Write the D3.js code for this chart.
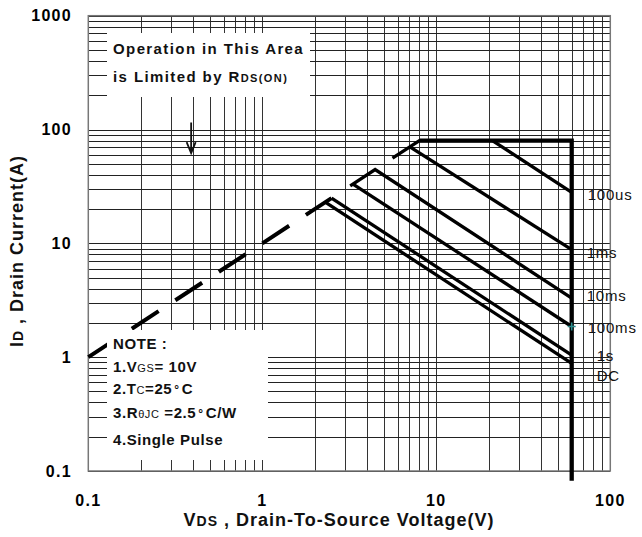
<!DOCTYPE html>
<html><head><meta charset="utf-8">
<script src="https://cdn.jsdelivr.net/npm/d3@7"></script>
<style>body{margin:0;background:#fff}svg{display:block}</style>
</head><body>
<svg id="c" width="642" height="537"></svg>
<script>
// ---------- data ----------
const xTickValues = [0.1, 1, 10, 100];
const xTickLabels = ["0.1", "1", "10", "100"];
const yTickValues = [0.1, 1, 10, 100, 1000];
const yTickLabels = ["0.1", "1", "10", "100", "1000"];

// RDS(on) limit (dashed), [VDS, ID]
const rdsLimit = [[0.1, 1], [2.5, 25]];
// outer envelope: 80 A package limit and 60 V BVDSS
const envelope = [[8, 80], [60, 80], [60, 0.082]];
// pulse curves
const seriesNames = ["100us", "1ms", "10ms", "100ms", "1s", "DC"];
const curve100us = [[5.6, 56], [8, 80], [21, 80], [60, 28]];
const curve1ms   = [[7.05, 70.5], [60, 8.8]];
const curve10ms  = [[3.2, 32], [4.45, 44.5], [60, 3.3]];
const curve100ms = [[3.32, 33.2], [60, 1.86]];
const curve1s    = [[2.5, 25], [60, 1.04]];
const curveDC    = [[2.3, 23], [60, 0.88]];
const curves = [curve100us, curve1ms, curve10ms, curve100ms, curve1s, curveDC];
// arrow annotation (VDS, ID from -> to)
const arrowPts = [[0.39, 115], [0.39, 62]];

// ---------- chart ----------
const svg = d3.select("#c");
const M = {left: 88.3, right: 610.3, top: 15.7, bottom: 471};
const x = d3.scaleLog().domain([0.1, 100]).range([M.left, M.right]);
const y = d3.scaleLog().domain([0.1, 1000]).range([M.bottom, M.top]);
const FONT = "'Liberation Sans', Arial, Helvetica, sans-serif";

// grid
const g = svg.append("g").attr("shape-rendering", "crispEdges");
g.selectAll("line.gx").data(x.ticks()).join("line")
  .attr("x1", d => Math.round(x(d)) + 0.5).attr("x2", d => Math.round(x(d)) + 0.5)
  .attr("y1", M.top).attr("y2", M.bottom)
  .attr("stroke", "#333").attr("stroke-width", 1);
g.selectAll("line.gy").data(y.ticks()).join("line")
  .attr("y1", d => Math.round(y(d)) + 0.5).attr("y2", d => Math.round(y(d)) + 0.5)
  .attr("x1", M.left).attr("x2", M.right)
  .attr("stroke", "#222").attr("stroke-width", 1);
svg.append("rect").attr("x", M.left).attr("y", M.top)
  .attr("width", M.right - M.left).attr("height", M.bottom - M.top)
  .attr("fill", "none").attr("stroke", "#777").attr("stroke-width", 1.5);

const line = d3.line().x(d => x(d[0])).y(d => y(d[1]));

// dashed RDS(on) limit
svg.append("path").attr("d", line(rdsLimit))
  .attr("fill", "none").attr("stroke", "#000").attr("stroke-width", 4)
  .attr("stroke-dasharray", "32,20");

// white annotation boxes
svg.append("rect").attr("x", 107).attr("y", 33).attr("width", 203).attr("height", 64).attr("fill", "#fff");
svg.append("rect").attr("x", 107).attr("y", 330).attr("width", 161).attr("height", 130).attr("fill", "#fff");

// pulse curves
svg.append("g").selectAll("path").data(curves).join("path")
  .attr("d", d => line(d))
  .attr("fill", "none").attr("stroke", "#000").attr("stroke-width", 3.3)
  .attr("stroke-linejoin", "miter");
// envelope
svg.append("path").attr("d", line(envelope))
  .attr("fill", "none").attr("stroke", "#000").attr("stroke-width", 4.3)
  .attr("stroke-linejoin", "miter");

// teal marker at 100ms end
const mEnd = curve100ms[curve100ms.length - 1];
const mx = x(mEnd[0]), my = y(mEnd[1]);
svg.append("path").attr("d", `M${mx-4},${my}H${mx+4}M${mx},${my-4}V${my+4}`)
  .attr("stroke", "#2a8c8c").attr("stroke-width", 1.6);

// arrow
const ax = x(arrowPts[0][0]), ay1 = y(arrowPts[0][1]), ay2 = y(arrowPts[1][1]);
svg.append("path").attr("d", `M${ax},${ay1}V${ay2}M${ax-4.5},${ay2-11}L${ax},${ay2}L${ax+4.5},${ay2-11}`)
  .attr("fill", "none").attr("stroke", "#111").attr("stroke-width", 1.8);

// curve labels
const labelOffsets = [[16, 7.5], [15, 8], [15, 3], [16, 7], [25, 6], [25, 17.5]];
svg.append("g").selectAll("text").data(seriesNames).join("text")
  .attr("x", (d, i) => x(curves[i][curves[i].length-1][0]) + labelOffsets[i][0])
  .attr("y", (d, i) => y(curves[i][curves[i].length-1][1]) + labelOffsets[i][1])
  .attr("font-family", FONT).attr("font-size", 15).attr("fill", "#111")
  .style("letter-spacing", "0.8px")
  .text(d => d);

// tick labels
svg.append("g").selectAll("text").data(xTickValues).join("text")
  .attr("x", d => x(d)).attr("y", 506).attr("text-anchor", "middle")
  .attr("font-family", FONT).attr("font-size", 16).attr("font-weight", "bold")
  .style("letter-spacing", "1.3px")
  .text((d, i) => xTickLabels[i]);
svg.append("g").selectAll("text").data(yTickValues).join("text")
  .attr("x", 72).attr("y", d => y(d)).attr("dy", "0.36em").attr("text-anchor", "end")
  .attr("font-family", FONT).attr("font-size", 16).attr("font-weight", "bold")
  .style("letter-spacing", "1.3px")
  .text((d, i) => yTickLabels[i]);

// helper for rich text
function rich(sel, parts) {
  parts.forEach(p => {
    const t = sel.append("tspan").text(p[0])
      .attr("font-size", p[1]).attr("font-weight", p[2] ? "bold" : "normal");
    if (p[3]) t.attr("dx", p[3]);
  });
}

// axis titles
const xt = svg.append("text").attr("x", 339).attr("y", 526).attr("text-anchor", "middle")
  .attr("font-family", FONT).attr("fill", "#111").style("letter-spacing", "1px");
rich(xt, [["V", 18, true], ["DS", 14, true], [" , Drain-To-Source Voltage(V)", 18, true]]);
const yt = svg.append("text").attr("transform", "translate(23,251) rotate(-90)")
  .attr("text-anchor", "middle")
  .attr("font-family", FONT).attr("fill", "#111").style("letter-spacing", "1px");
rich(yt, [["I", 18, true], ["D", 14, true], [" , Drain Current(A)", 18, true]]);

// operation box text
const o1 = svg.append("text").attr("x", 113).attr("y", 54).attr("font-family", FONT)
  .attr("fill", "#111").style("letter-spacing", "1.4px");
rich(o1, [["Operation in This Area", 15, true]]);
const o2 = svg.append("text").attr("x", 113).attr("y", 82).attr("font-family", FONT)
  .attr("fill", "#111").style("letter-spacing", "1.4px");
rich(o2, [["is Limited by R", 15, true], ["DS(ON)", 11, true]]);

// note box text
const notes = [
  [349, [["NOTE :", 15, true]]],
  [372, [["1.V", 15, true], ["GS", 11, false], ["= 10V", 15, true]]],
  [394, [["2.T", 15, true], ["C", 11, false], ["=25", 15, true], ["°", 12, true, 2], ["C", 15, true, 2]]],
  [418, [["3.R", 15, true], ["θJC", 11, false], [" =2.5", 15, true], ["°", 12, true, 2], ["C/W", 15, true, 2]]],
  [445, [["4.Single Pulse", 15, true]]]
];
notes.forEach(n => {
  const t = svg.append("text").attr("x", 113).attr("y", n[0]).attr("font-family", FONT)
    .attr("fill", "#111").style("letter-spacing", "0.6px");
  rich(t, n[1]);
});
</script>
</body></html>
